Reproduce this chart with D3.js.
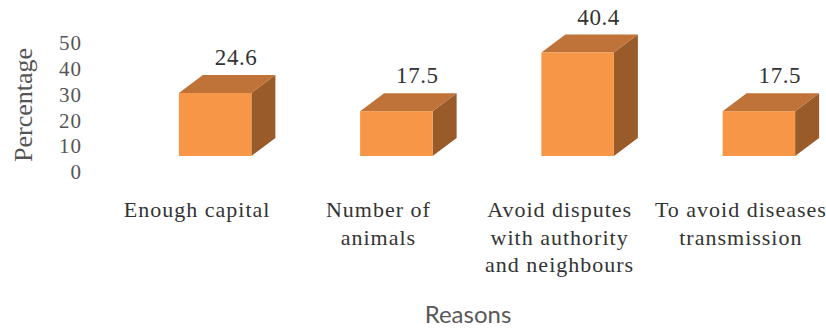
<!DOCTYPE html>
<html>
<head>
<meta charset="utf-8">
<script src="https://cdn.jsdelivr.net/npm/d3@7"></script>
<style>
  html, body { margin: 0; padding: 0; background: #fff; }
  svg { display: block; }
</style>
</head>
<body>
<svg id="chart" width="826" height="329"></svg>
<script>
const categories = [
  ["Enough capital"],
  ["Number of", "animals"],
  ["Avoid disputes", "with authority", "and neighbours"],
  ["To avoid diseases", "transmission"]
];
const values = [24.6, 17.5, 40.4, 17.5];
const tickValues = [0, 10, 20, 30, 40, 50];
const yTitle = "Percentage";
const xTitle = "Reasons";

const SERIF = "'Liberation Serif', 'Times New Roman', serif";
const SANS = "Lato, 'Open Sans', sans-serif";

const svg = d3.select("#chart");
const depthX = 24, depthY = -18;

const keys = categories.map((c, i) => i);
const x = d3.scaleBand().domain(keys).range([124.5, 849.5]).paddingInner(0.6).paddingOuter(0.3);
const yBar = d3.scaleLinear().domain([0, 50]).range([156, 28]);
const yAxis = d3.scaleLinear().domain([0, 50]).range([172, 43]);

const colFront = "#F79646", colTop = "#BF7338", colSide = "#9A5B2A";

// axis labels
const ax = svg.append("g").attr("transform", "translate(82,0)")
  .call(d3.axisLeft(yAxis).tickValues(tickValues).tickSize(0).tickPadding(0).tickFormat(d3.format("d")));
ax.select(".domain").remove();
ax.attr("font-family", null).attr("font-size", null);
ax.selectAll("text")
  .style("font-family", SERIF)
  .style("font-size", "21px")
  .style("letter-spacing", "1px")
  .attr("fill", "#555");

// bars
const bars = svg.append("g").selectAll("g").data(values).join("g");
bars.each(function(v, i) {
  const g = d3.select(this);
  const x0 = x(i), x1 = x(i) + x.bandwidth();
  const yt = yBar(v), yb = yBar(0);
  g.append("path")
    .attr("d", `M${x1},${yt} L${x1 + depthX},${yt + depthY} L${x1 + depthX},${yb + depthY} L${x1},${yb} Z`)
    .attr("fill", colSide);
  g.append("path")
    .attr("d", `M${x0},${yt} L${x0 + depthX},${yt + depthY} L${x1 + depthX},${yt + depthY} L${x1},${yt} Z`)
    .attr("fill", colTop);
  g.append("rect")
    .attr("x", x0).attr("y", yt)
    .attr("width", x1 - x0).attr("height", yb - yt)
    .attr("fill", colFront);
  g.append("text")
    .style("font-family", SERIF)
    .style("font-size", "23px")
    .style("letter-spacing", "0.6px")
    .attr("x", x0 + x.bandwidth() / 2 + 21)
    .attr("y", yt - 28)
    .attr("text-anchor", "middle")
    .attr("fill", "#333")
    .text(d3.format(".1f")(v));
});

// category labels
const cat = svg.append("g").selectAll("text").data(categories).join("text")
  .style("font-family", SERIF)
  .style("font-size", "22px")
  .style("letter-spacing", "1px")
  .attr("x", (d, i) => x(i) + x.bandwidth() / 2 - 18)
  .attr("y", 217)
  .attr("text-anchor", "middle")
  .attr("fill", "#333");
cat.each(function(lines, i) {
  const t = d3.select(this);
  lines.forEach((ln, j) => {
    t.append("tspan")
      .attr("x", x(i) + x.bandwidth() / 2 - 18)
      .attr("dy", j === 0 ? 0 : 27.5)
      .text(ln);
  });
});

// axis titles
svg.append("text")
  .style("font-family", SERIF)
  .style("font-size", "26px")
  .attr("transform", "translate(32,105) rotate(-90)")
  .attr("text-anchor", "middle")
  .attr("fill", "#555")
  .text(yTitle);

svg.append("text")
  .style("font-family", SANS)
  .style("font-size", "24px")
  .attr("x", 468).attr("y", 323)
  .attr("text-anchor", "middle")
  .attr("fill", "#595959")
  .text(xTitle);
</script>
</body>
</html>
